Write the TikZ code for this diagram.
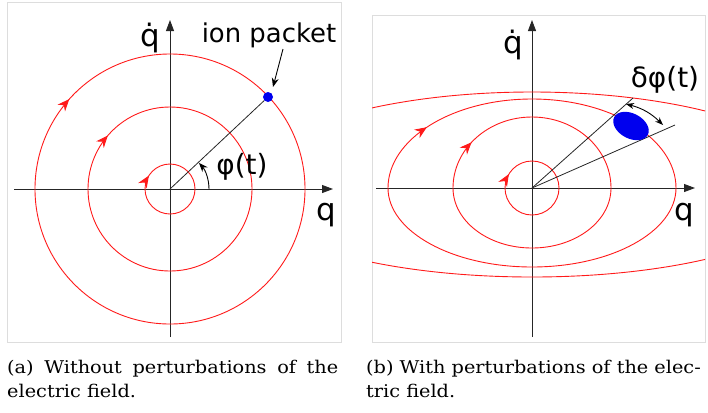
\documentclass[tikz,border=0pt]{standalone}
\usepackage{fontspec}
\setmainfont[FakeStretch=1.1]{DejaVu Serif}
\newfontfamily\labelfont{DejaVu Sans}
\usepackage{tikz}
\usetikzlibrary{arrows.meta,decorations.markings,shapes.geometric}
\definecolor{OrbitRed}{HTML}{FF1A1A}
\definecolor{PacketBlue}{HTML}{0000EE}
\definecolor{FrameGrey}{HTML}{DDDDDD}

\begin{document}
\begin{tikzpicture}[x=1bp, y=-1bp,
    frame/.style={draw=FrameGrey, line width=0.9bp},
    axis/.style={-{Triangle[length=11bp, width=8bp]}, line width=0.9bp, black!85},
    orbit/.style={OrbitRed, line width=0.9bp},
    flow/.style={postaction={decorate, decoration={markings,
        mark=at position #1 with {\arrow[OrbitRed]{Stealth[length=12bp, width=10bp]}}}}},
    ray/.style={line width=0.8bp, black!85},
    tip/.style={-{Stealth[length=9bp, width=7bp]}, line width=0.9bp, black},
    lbl/.style={font=\labelfont\fontsize{28}{32}\selectfont, inner sep=0pt},
    axlbl/.style={font=\labelfont\fontsize{31}{34}\selectfont, inner sep=0pt},
    captext/.style={font=\fontsize{17.6}{22}\selectfont, anchor=base west, inner sep=0pt}
  ]
  \useasboundingbox (0,0) rectangle (708,412);

  % (a) without perturbations
  \draw[frame] (7,2) rectangle (341,342);
  \coordinate (oa) at (170,189);
  \coordinate (aW) at (14,189);
  \coordinate (aE) at (333,189);
  \coordinate (aS) at (170,337);
  \coordinate (aN) at (170,20);
  \draw[axis] (aW) -- (aE);
  \draw[axis] (aS) -- (aN);
  \draw[orbit, flow=0.59] (oa) circle[radius=25];
  \draw[orbit, flow=0.613] (oa) circle[radius=82];
  \draw[orbit, flow=0.616] (oa) circle[radius=135];
  \node[circle, fill=PacketBlue, minimum size=10bp, inner sep=0pt] (pkt) at (268,97) {};
  \draw[ray] (oa) -- (pkt);
  \draw[ray, tip] (209,189) arc[start angle=0, end angle=-42, radius=39];
  \node[lbl] (phi) at (242,167) {φ(t)};
  \node[lbl, font=\labelfont\fontsize{26}{30}\selectfont] (pktlbl) at (269,35) {ion packet};
  \coordinate (pktfrom) at (283,49);
  \coordinate (pktto) at (273,87);
  \draw[tip] (pktfrom) -- (pktto);
  \node[axlbl] (qa) at (326,215) {q};
  \node[axlbl] (qdota) at (150,38) {\.{q}};

  % (b) with perturbations
  \draw[frame] (372,15) rectangle (705,342);
  \coordinate (ob) at (532,188);
  \coordinate (bW) at (376,188);
  \coordinate (bE) at (695,188);
  \coordinate (bS) at (532,337);
  \coordinate (bN) at (532,20);
  \draw[axis] (bW) -- (bE);
  \draw[axis] (bS) -- (bN);
  \begin{scope}
    \clip (372,15) rectangle (705,342);
    \draw[orbit, shift={(ob)}] (290,0) arc[start angle=0, end angle=180, x radius=290, y radius=89]
      arc[start angle=180, end angle=360, x radius=290, y radius=96];
  \end{scope}
  \draw[orbit, flow=0.594, shift={(ob)}] (144,0) arc[start angle=0, end angle=180, x radius=144, y radius=79]
    arc[start angle=180, end angle=360, x radius=144, y radius=89];
  \draw[orbit, flow=0.593, shift={(ob)}] (79,0) arc[start angle=0, end angle=180, x radius=79, y radius=60]
    arc[start angle=180, end angle=360, x radius=79, y radius=71];
  \draw[orbit, flow=0.586] (ob) circle[radius=27];
  \coordinate (rayA) at (633,98);
  \coordinate (rayB) at (675,125);
  \draw[ray] (ob) -- (rayA);
  \draw[ray] (ob) -- (rayB);
  \node[ellipse, fill=PacketBlue, minimum width=38bp, minimum height=25bp, inner sep=0pt, rotate=-28] (cloud) at (631,126) {};
  \coordinate (dA) at (626,104);
  \coordinate (dB) at (663,125);
  \draw[{Stealth[length=8bp, width=6bp]}-{Stealth[length=8bp, width=6bp]}, line width=0.9bp] (dA) to[bend left=15] (dB);
  \node[lbl] (dphi) at (665,80) {δφ(t)};
  \node[axlbl] (qb) at (684,215) {q};
  \node[axlbl] (qdotb) at (513,45) {\.{q}};

  % captions
  \node[captext] (capa1) at (7,373) {\makebox[331bp][s]{(a) Without perturbations of the}};
  \node[captext] (capa2) at (7,397) {electric field.};
  \node[captext] (capb1) at (366,373) {(b) With perturbations of the elec-};
  \node[captext] (capb2) at (366,397) {tric field.};
\end{tikzpicture}
\end{document}
